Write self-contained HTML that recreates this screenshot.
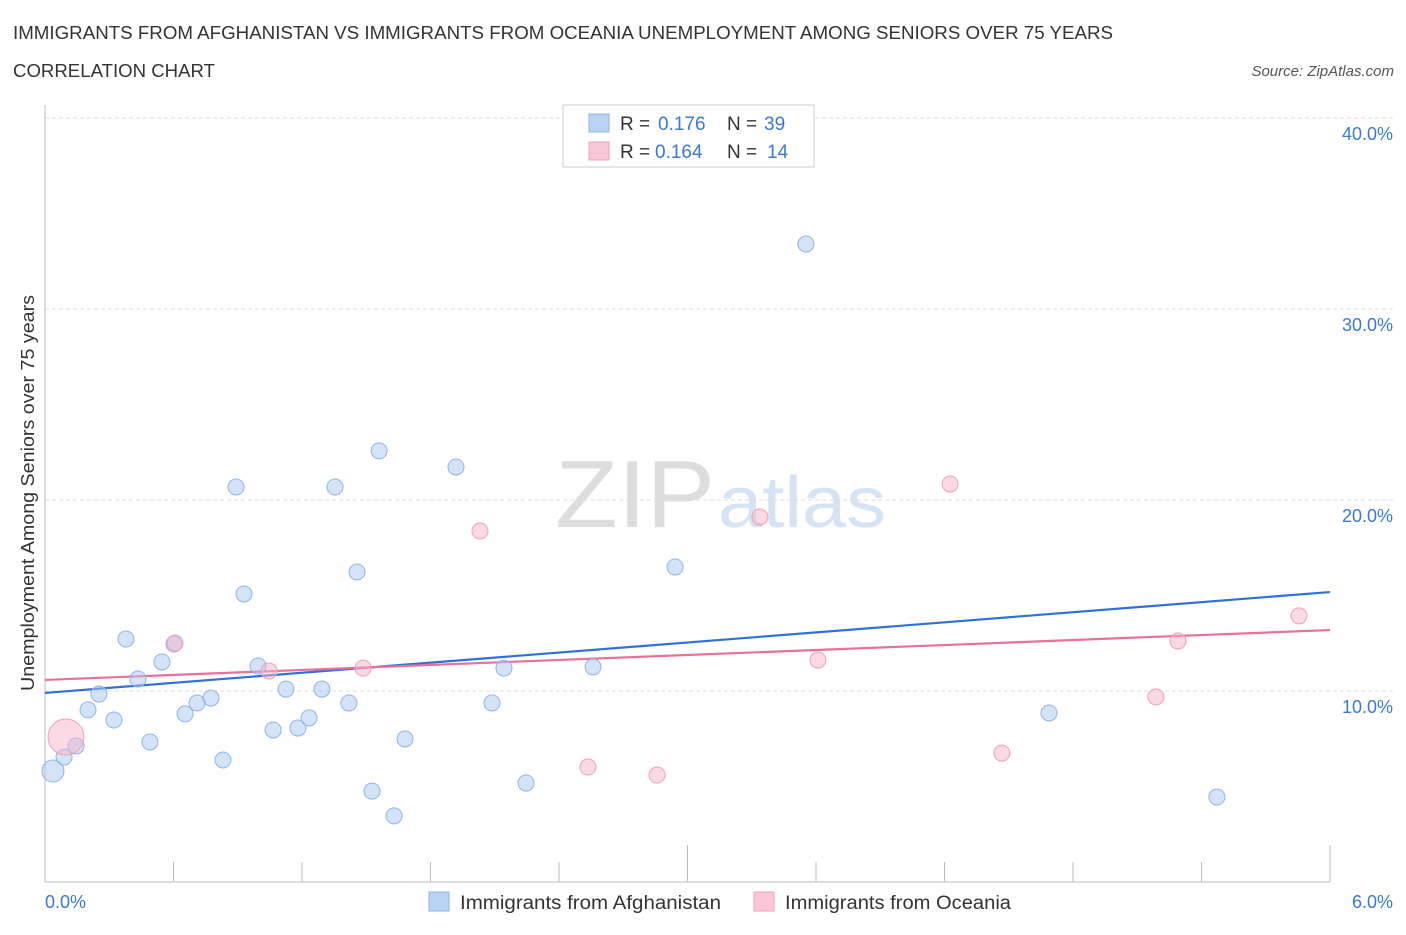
<!DOCTYPE html>
<html><head><meta charset="utf-8"><style>
body{margin:0;background:#fff;font-family:"Liberation Sans",sans-serif;}
svg text{font-family:"Liberation Sans",sans-serif;}
</style></head><body>
<svg id="chart" width="1406" height="930" viewBox="0 0 1406 930" xmlns="http://www.w3.org/2000/svg">
<text x="13" y="39" font-size="18" fill="#333" textLength="1100" lengthAdjust="spacingAndGlyphs">IMMIGRANTS FROM AFGHANISTAN VS IMMIGRANTS FROM OCEANIA UNEMPLOYMENT AMONG SENIORS OVER 75 YEARS</text>
<text x="13" y="77" font-size="18" fill="#333" textLength="202" lengthAdjust="spacingAndGlyphs">CORRELATION CHART</text>
<text x="1394" y="76" font-size="15" fill="#555" font-style="italic" text-anchor="end">Source: ZipAtlas.com</text>
<g>
<text x="555" y="527" font-size="96" fill="#ddd" font-family="Liberation Serif" textLength="160" lengthAdjust="spacingAndGlyphs">ZIP</text>
<text x="718" y="527" font-size="72" fill="#d5e3f5" textLength="168" lengthAdjust="spacingAndGlyphs">atlas</text>
</g>
<g id="grid"></g>
<g id="axes"></g>
<g id="lines"></g>
<g id="points"></g>
<text transform="translate(34,493) rotate(-90)" font-size="18" fill="#333" text-anchor="middle" textLength="396" lengthAdjust="spacingAndGlyphs">Unemployment Among Seniors over 75 years</text>
<text x="45" y="908" font-size="18" fill="#3a78d4">0.0%</text>
<text x="1393" y="908" font-size="18" fill="#3a78d4" text-anchor="end">6.0%</text>
<g>
<rect x="563" y="105" width="251" height="62" fill="#fff" stroke="#ccc"/>
<rect x="589" y="114" width="20" height="18" fill="#b9d3f5" stroke="#8fb4e8"/>
<text x="620" y="130" font-size="19" fill="#333">R = </text><text x="658" y="130" font-size="19" fill="#3a78d4">0.176</text>
<text x="727" y="130" font-size="19" fill="#333">N = </text><text x="764" y="130" font-size="19" fill="#3a78d4">39</text>
<rect x="589" y="142" width="20" height="18" fill="#f8c6d6" stroke="#eea0bb"/>
<text x="620" y="158" font-size="19" fill="#333">R = </text><text x="655" y="158" font-size="19" fill="#3a78d4">0.164</text>
<text x="727" y="158" font-size="19" fill="#333">N = </text><text x="767" y="158" font-size="19" fill="#3a78d4">14</text>
</g>
<g>
<rect x="429" y="892" width="20" height="19" fill="#b9d3f5" stroke="#8fb4e8"/>
<text x="460" y="909" font-size="19" fill="#333" textLength="261" lengthAdjust="spacingAndGlyphs">Immigrants from Afghanistan</text>
<rect x="754" y="892" width="20" height="19" fill="#f8c6d6" stroke="#eea0bb"/>
<text x="785" y="909" font-size="19" fill="#333" textLength="226" lengthAdjust="spacingAndGlyphs">Immigrants from Oceania</text>
</g>
</svg>
<script>
const yTicks=[10,20,30,40];
const yTickLabels=["10.0%","20.0%","30.0%","40.0%"];
const blueX=[0.037,0.089,0.145,0.201,0.252,0.322,0.378,0.434,0.49,0.546,0.602,0.654,0.71,0.775,0.831,0.892,0.929,0.995,1.065,1.125,1.181,1.233,1.293,1.354,1.419,1.457,1.527,1.56,1.63,1.681,1.919,2.087,2.143,2.246,2.559,2.942,3.553,4.688,5.472];
const blueY=[5.81,6.54,7.12,9.01,9.84,8.48,12.72,10.63,7.33,11.52,12.46,8.8,9.37,9.63,6.39,20.68,15.08,11.31,7.96,10.1,8.06,8.59,10.1,20.68,9.37,16.23,4.76,22.57,3.46,7.49,21.73,9.37,11.2,5.18,11.26,16.49,33.4,8.85,4.45];
const pinkX=[0.098,0.607,1.046,1.485,2.031,2.535,2.858,3.338,3.609,4.226,4.468,5.187,5.29,5.855];
const pinkY=[7.59,12.51,11.05,11.2,18.38,6.02,5.6,19.11,11.62,20.84,6.75,9.69,12.62,13.93];
const blueTrend=[9.9,15.18];
const pinkTrend=[10.58,13.19];
const NS="http://www.w3.org/2000/svg";
const sx=v=>45+v/6*1285;
const sy=v=>882-v*19.1;
function mk(tag,parent,attrs){const e=document.createElementNS(NS,tag);for(const k in attrs)e.setAttribute(k,attrs[k]);document.getElementById(parent).appendChild(e);return e;}
yTicks.forEach((t,i)=>{
 const l=mk('line','grid',{x1:45,x2:1393,y1:sy(t),y2:sy(t),stroke:'#ddd','stroke-dasharray':'4,3'});
 
 
 const tx=mk('text','grid',{x:1393,y:sy(t)+22,'font-size':18,fill:'#3a78d4','text-anchor':'end'});
 tx.textContent=yTickLabels[i];
 
 
});
const ax=mk('line','axes',{x1:45,x2:45,y1:105,y2:882,stroke:'#bbb'});


const bx=mk('line','axes',{x1:45,x2:1330,y1:882,y2:882,stroke:'#bbb'});


for(let i=0;i<=10;i++){
 const x=sx(i*0.6);
 const tk=mk('line','axes',{x1:x,x2:x,y1:(i==5||i==10)?845:862,y2:882,stroke:'#bbb'});
 
 
}
const bl=mk('line','lines',{x1:sx(0),x2:sx(6),y1:sy(blueTrend[0]),y2:sy(blueTrend[1]),stroke:'#2e72d8','stroke-width':2.2});


const pl=mk('line','lines',{x1:sx(0),x2:sx(6),y1:sy(pinkTrend[0]),y2:sy(pinkTrend[1]),stroke:'#e8709a','stroke-width':2.2});


blueX.forEach((v,i)=>{
 const c=mk('circle','points',{cx:sx(v),cy:sy(blueY[i]),r:i==0?11:8,fill:'rgba(170,200,242,0.5)',stroke:'#8fb4e8','stroke-width':1});
 
 
});
pinkX.forEach((v,i)=>{
 const c=mk('circle','points',{cx:sx(v),cy:sy(pinkY[i]),r:i==0?18:8,fill:'rgba(246,180,204,0.5)',stroke:'#eea0bb','stroke-width':1});
 
 
});
</script>
</body></html>
